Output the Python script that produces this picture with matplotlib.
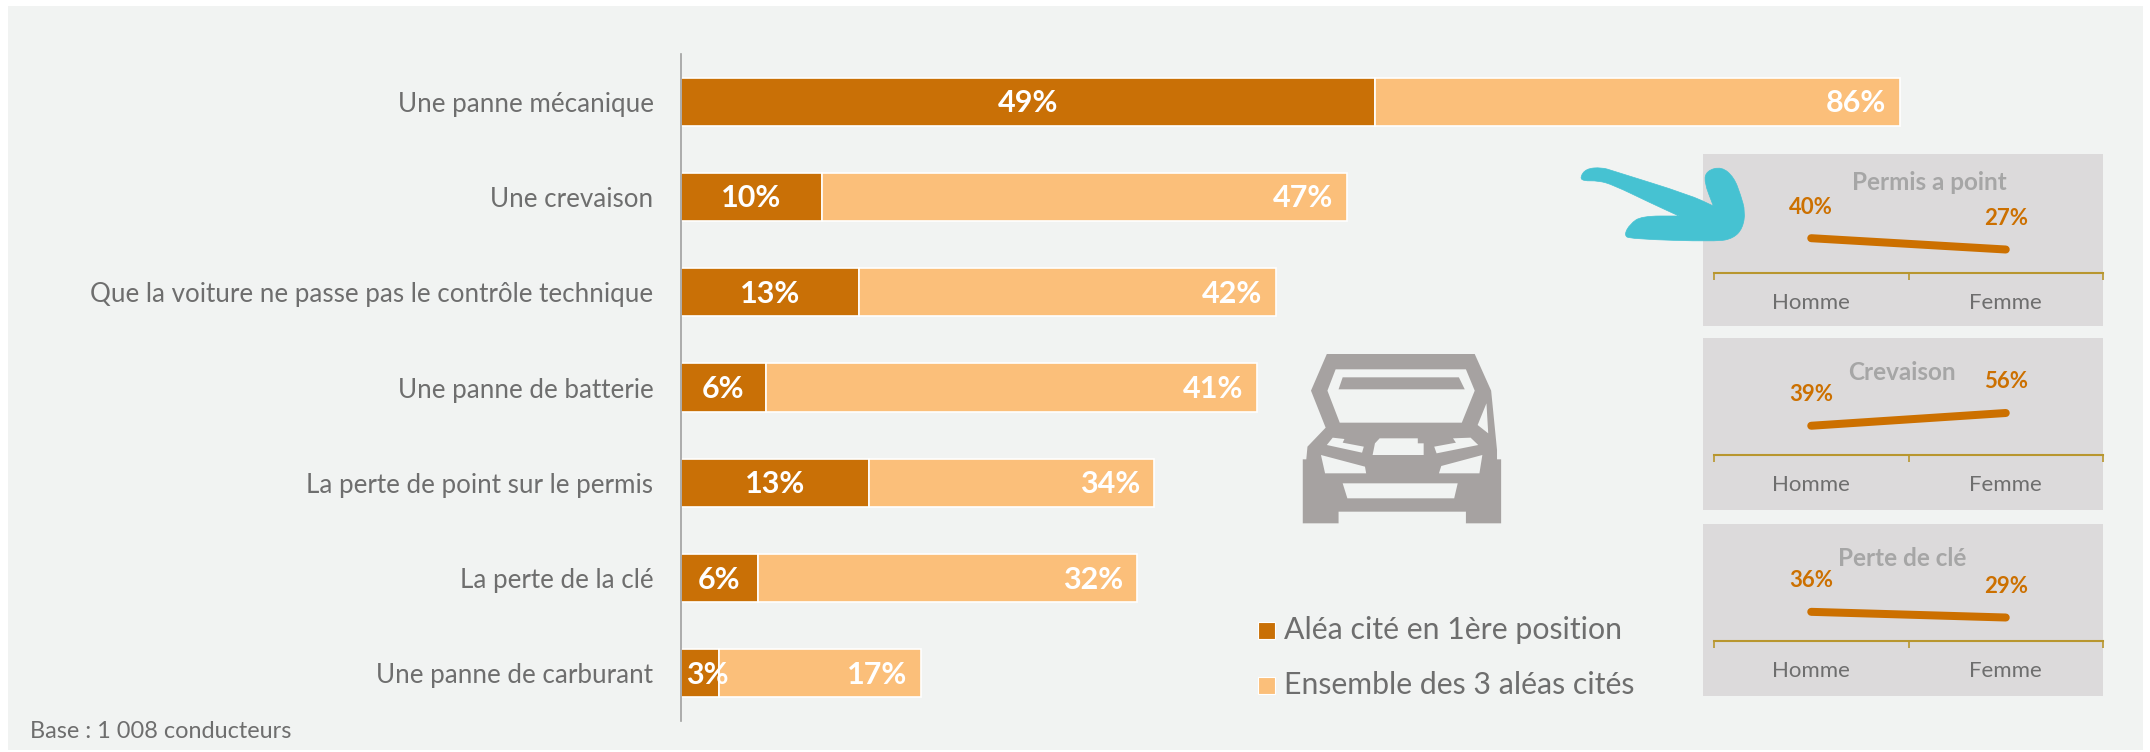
import matplotlib
matplotlib.use("Agg")
import matplotlib.pyplot as plt
from matplotlib.patches import Polygon, Rectangle, PathPatch
from matplotlib.path import Path

W, H = 2150, 752
DARK = "#C97006"
LIGHT = "#FBBF7A"
BG = "#F1F3F2"
PANEL = "#DCDADB"
TXT = "#6E6E6E"
ICON = "#A6A2A1"

plt.rcParams["font.family"] = ["Lato", "DejaVu Sans"]

categories = ["Une panne mécanique", "Une crevaison",
              "Que la voiture ne passe pas le contrôle technique",
              "Une panne de batterie", "La perte de point sur le permis",
              "La perte de la clé", "Une panne de carburant"]
first_values = [49, 10, 12.6, 6, 13.3, 5.5, 2.75]
total_values = [86, 47, 42, 40.7, 33.4, 32.2, 17]
first_labels = ["49%", "10%", "13%", "6%", "13%", "6%", "3%"]
total_labels = ["86%", "47%", "42%", "41%", "34%", "32%", "17%"]
legend_labels = ["Aléa cité en 1ère position", "Ensemble des 3 aléas cités"]
base_note = "Base : 1 008 conducteurs"

genders = ["Homme", "Femme"]
small_titles = ["Permis a point", "Crevaison", "Perte de clé"]
small_values = [[40, 27], [39, 56], [36, 29]]


def px_axes(left, top, right, bottom, **kw):
    # axes placed with reference pixel coordinates
    return fig.add_axes([left / W, 1 - bottom / H, (right - left) / W, (bottom - top) / H], **kw)


def pts(px):
    return px * 72 / 100


def car_points(points):
    return [(x / 1.704 + 1230, y / 3 + 330) for x, y in points]


def smooth_path(points):
    # closed quadratic spline through the midpoints, a doubled point stays a sharp corner
    mids = [((a[0] + b[0]) / 2, (a[1] + b[1]) / 2) for a, b in zip(points, points[1:] + points[:1])]
    verts = [mids[-1]]
    codes = [Path.MOVETO]
    for p, m in zip(points, mids):
        verts += [p, m]
        codes += [Path.CURVE3, Path.CURVE3]
    return Path(verts, codes)


fig = plt.figure(figsize=(W / 100, H / 100), dpi=100, facecolor="white")

# background layer: grey panel, small boxes, car icon, legend
back = px_axes(0, 0, W, H, zorder=0)
back.set_xlim(0, W)
back.set_ylim(H, 0)
back.axis("off")
back.add_patch(Rectangle((8, 6), 2135, 744, color=BG, lw=0))
for top in [154, 338, 524]:
    back.add_patch(Rectangle((1703, top), 400, 172, color=PANEL, lw=0))

car_body = [(165, 72), (417, 72), (445, 182), (455, 360), (455, 388), (462, 388), (462, 580),
            (402, 580), (402, 545), (185, 545), (185, 580), (124, 580), (124, 388), (130, 388),
            (132, 350), (163, 293), (138, 182)]
car_holes = [
    [(180, 118), (402, 118), (417, 182), (395, 278), (187, 278), (166, 182)],
    [(437, 220), (440, 310), (422, 285)],
    [(175, 323), (195, 327), (192, 338), (228, 350), (225, 368), (165, 345)],
    [(255, 325), (320, 325), (320, 340), (330, 340), (330, 375), (243, 375), (247, 340)],
    [(380, 325), (410, 323), (423, 345), (352, 370), (348, 350), (385, 338)],
    [(155, 375), (230, 410), (232, 430), (162, 430)],
    [(430, 375), (425, 430), (356, 430), (360, 408)],
    [(192, 460), (388, 460), (382, 505), (200, 505)],
]
car_strip = [(192, 142), (390, 142), (400, 178), (185, 178)]
back.add_patch(Polygon(car_points(car_body), color=ICON, lw=0))
for hole in car_holes:
    back.add_patch(Polygon(car_points(hole), color=BG, lw=0))
back.add_patch(Polygon(car_points(car_strip), color=ICON, lw=0))

for label, color, y0 in zip(legend_labels, [DARK, LIGHT], [622, 677]):
    back.add_patch(Rectangle((1258, y0), 17, 17, facecolor=color, edgecolor="white", lw=0.8))
    back.text(1284, y0 + 8, label, color=TXT, fontsize=21.8, va="center", ha="left")
back.text(30, 731, base_note, color=TXT, fontsize=16.9, va="center", ha="left")

# main stacked bars
ax = px_axes(680.5, 54, 2098, 721, zorder=1)
ax.patch.set_alpha(0)
rest_values = [t - f for t, f in zip(total_values, first_values)]
ypos = list(range(len(categories)))
ax.barh(ypos, first_values, height=0.505, color=DARK, edgecolor="white", linewidth=1.2)
ax.barh(ypos, rest_values, left=first_values, height=0.505, color=LIGHT, edgecolor="white", linewidth=1.2)
ax.set_xlim(0, 100)
ax.set_ylim(6.5, -0.5)
ax.set_yticks(ypos)
ax.set_yticklabels(categories, color=TXT, fontsize=18.7)
ax.tick_params(axis="y", length=0, pad=pts(27))
ax.xaxis.set_visible(False)
for side in ["top", "right", "bottom"]:
    ax.spines[side].set_visible(False)
ax.spines["left"].set_color("#A0A0A0")
ax.spines["left"].set_linewidth(1.2)

for i in ypos:
    # the 3% label sits a bit right of its bar centre
    dx = pts(7) if first_labels[i] == "3%" else 0
    ax.annotate(first_labels[i], (first_values[i] / 2, i), xytext=(dx, -pts(1.5)), textcoords="offset points",
                color="white", fontsize=22, fontweight="bold", ha="center", va="center")
    ax.annotate(total_labels[i], (total_values[i], i), xytext=(-pts(14), -pts(1.5)), textcoords="offset points",
                color="white", fontsize=22, fontweight="bold", ha="right", va="center")

# small gender panels
baselines = [273, 455, 641]
px_per_pct = [0.87, 0.75, 0.81]
title_x = [1929, 1902, 1902]
title_y = [183, 372, 559]
for title, vals, base, scale, tx, ty in zip(small_titles, small_values, baselines, px_per_pct, title_x, title_y):
    sub = px_axes(1714, base - 100, 2103, base, zorder=2)
    sub.patch.set_alpha(0)
    sub.plot(genders, vals, color="#CC7000", lw=pts(8), solid_capstyle="round")
    sub.set_xlim(-0.5, 1.5)
    sub.set_ylim(0, 100 / scale)
    sub.set_yticks([])
    for side in ["top", "right", "left"]:
        sub.spines[side].set_visible(False)
    sub.spines["bottom"].set_color("#B8962E")
    sub.spines["bottom"].set_linewidth(1.5)
    # category separators, as on a spreadsheet axis
    sub.set_xticks([-0.5, 0.5, 1.5], labels=["", "", ""])
    sub.tick_params(axis="x", length=pts(7), width=1.2, color="#B8962E")
    for i, g in enumerate(genders):
        sub.annotate(g, (i, 0), xytext=(0, -pts(30)), textcoords="offset points", color=TXT,
                     fontsize=16, ha="center", va="center", annotation_clip=False)
        sub.annotate(f"{vals[i]}%", (i, vals[i]), xytext=(0, pts(31)), textcoords="offset points",
                     color="#CC7000", fontsize=16, fontweight="bold", ha="center", va="center",
                     annotation_clip=False)
    back.text(tx, ty, title, color="#A6A6A6", fontsize=17.5, fontweight="bold", ha="center", va="center")

# teal arrow on top of everything
front = px_axes(0, 0, W, H, zorder=3)
front.set_xlim(0, W)
front.set_ylim(H, 0)
front.axis("off")
arrow_shape = [(30, 82), (48, 56), (95, 52), (130, 63), (360, 135), (430, 168), (430, 168), (402, 95),
               (410, 62), (455, 50), (492, 82), (512, 135), (526, 185), (518, 235), (490, 265),
               (440, 275), (180, 267), (162, 255), (180, 222), (215, 198), (327, 198), (327, 198),
               (240, 158), (130, 105), (85, 92), (40, 93)]
arrow_shape = [(x / 3 + 1570, y / 3 + 150) for x, y in arrow_shape]
front.add_patch(PathPatch(smooth_path(arrow_shape), facecolor="#46C2D2", edgecolor="#46C2D2", lw=0.5))

fig.savefig("out.png", dpi=100)
